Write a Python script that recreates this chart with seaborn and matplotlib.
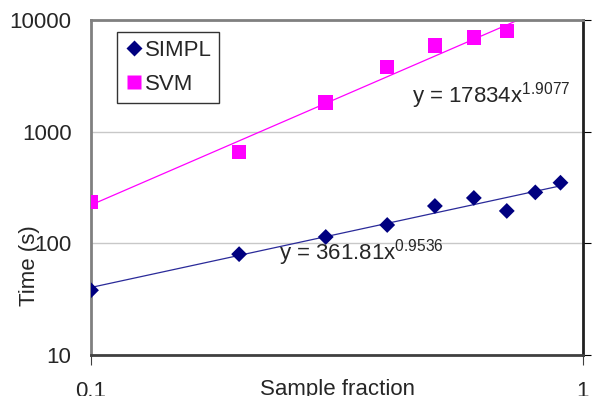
import numpy as np
import pandas as pd
import matplotlib
matplotlib.use("Agg")
import matplotlib.pyplot as plt
import seaborn as sns

# data
simpl_x = [0.1, 0.2, 0.3, 0.4, 0.5, 0.6, 0.7, 0.8, 0.9]
simpl_t = [38, 80, 114, 146, 216, 255, 195, 286, 349]
svm_x = [0.1, 0.2, 0.3, 0.4, 0.5, 0.6, 0.7]
svm_t = [234, 656, 1815, 3810, 5880, 6980, 7940]

# power trendlines as printed on the chart
simpl_a, simpl_b = 361.81, 0.9536
svm_a, svm_b = 17834, 1.9077

sns.set_style("white")
plt.rcParams['font.family'] = ['Liberation Sans', 'DejaVu Sans']
plt.rcParams['mathtext.fontset'] = 'custom'
plt.rcParams['mathtext.rm'] = 'Liberation Sans'

df = pd.DataFrame({
    "x": simpl_x + svm_x,
    "t": simpl_t + svm_t,
    "method": ["SIMPL"] * len(simpl_x) + ["SVM"] * len(svm_x),
})

fit_simpl = pd.DataFrame({"x": np.geomspace(0.1, 0.9, 50)})
fit_simpl["t"] = simpl_a * fit_simpl["x"] ** simpl_b
fit_svm = pd.DataFrame({"x": np.geomspace(0.1, 0.74, 50)})
fit_svm["t"] = svm_a * fit_svm["x"] ** svm_b

fs = 16
fig = plt.figure(figsize=(5.95, 3.96), dpi=100)
ax = fig.add_axes([91 / 595, 41 / 396, 492 / 595, 335 / 396])
ax.set_xscale("log")
ax.set_yscale("log")

sns.lineplot(data=fit_svm, x="x", y="t", color="#FF00FF", lw=0.9, ax=ax, legend=False)
sns.lineplot(data=fit_simpl, x="x", y="t", color="#2a2a99", lw=0.9, ax=ax, legend=False)
sns.scatterplot(data=df, x="x", y="t", hue="method", style="method", size="method",
                palette={"SIMPL": "#000080", "SVM": "#FF00FF"},
                markers={"SIMPL": "D", "SVM": "s"},
                sizes={"SIMPL": 65, "SVM": 110},
                edgecolor="none", ax=ax, zorder=3)

ax.set_xlim(0.1, 1)
ax.set_ylim(10, 10000)
ax.set_yticks([10, 100, 1000, 10000])
ax.set_yticklabels(["10", "100", "1000", "10000"])
ax.set_xticks([0.1, 1])
ax.set_xticklabels(["0.1", "1"])
ax.minorticks_off()
ax.yaxis.grid(True, color="#c8c8c8", lw=1)
ax.set_axisbelow(True)

ax.tick_params(axis="y", which="both", left=False, right=True, labelleft=True,
               direction="out", length=6, color="black", labelsize=fs, pad=8)
ax.tick_params(axis="x", which="both", bottom=True, direction="out", length=7,
               color="#404040", labelsize=fs, pad=11.5)

for side, col, w in [("left", "#808080", 2), ("top", "#808080", 2),
                     ("right", "#202020", 2), ("bottom", "#404040", 2)]:
    ax.spines[side].set_visible(True)
    ax.spines[side].set_color(col)
    ax.spines[side].set_linewidth(w)

ax.set_xlabel("")
ax.set_ylabel("")
fig.text(337 / 595, 1 - 379 / 396, "Sample fraction", ha="center", va="top", fontsize=fs)
fig.text(30 / 595, 1 - 266 / 396, "Time (s)", ha="center", va="center", rotation=90, fontsize=fs)

ax.text(412 / 595, 1 - 96 / 396, r"y = 17834x$^{1.9077}$", transform=fig.transFigure,
        ha="left", va="center", fontsize=fs)
ax.text(279 / 595, 1 - 253 / 396, r"y = 361.81x$^{0.9536}$", transform=fig.transFigure,
        ha="left", va="center", fontsize=fs)

leg = ax.legend(loc="upper left", bbox_to_anchor=(117 / 595, 1 - 32 / 396),
                bbox_transform=fig.transFigure, fontsize=fs, frameon=True,
                fancybox=False, handletextpad=0.1, borderpad=0.35,
                labelspacing=0.6, handlelength=0.8, borderaxespad=0)
leg.get_frame().set_edgecolor("black")
leg.get_frame().set_linewidth(1)

fig.savefig("out.png", dpi=100)
